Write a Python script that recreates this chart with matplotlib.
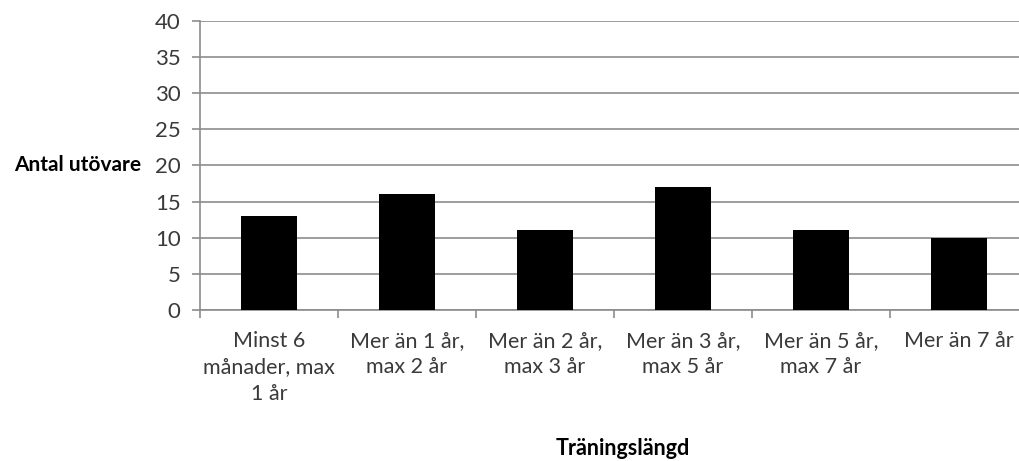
import matplotlib
matplotlib.use("Agg")
import matplotlib.pyplot as plt
import numpy as np

categories = [
    "Minst 6\nmånader, max\n1 år",
    "Mer än 1 år,\nmax 2 år",
    "Mer än 2 år,\nmax 3 år",
    "Mer än 3 år,\nmax 5 år",
    "Mer än 5 år,\nmax 7 år",
    "Mer än 7 år",
]
counts = [13, 16, 11, 17, 11, 10]
y_ticks = [0, 5, 10, 15, 20, 25, 30, 35, 40]

plt.rcParams["font.family"] = ["Lato", "DejaVu Sans"]

W, H = 1019, 461
fig = plt.figure(figsize=(W / 100, H / 100), dpi=100)
left, right, bottom, top = 200, 1028, 310, 20.7
ax = fig.add_axes([left / W, 1 - bottom / H, (right - left) / W, (bottom - top) / H])

x = np.arange(len(categories))
ax.bar(x, counts, width=0.40, color="black", zorder=3)

ax.set_xlim(-0.5, len(categories) - 0.5)
ax.set_ylim(0, 40)
ax.set_yticks(y_ticks)
ax.set_yticklabels([str(v) for v in y_ticks])
ax.yaxis.grid(True, color="#8c8c8c", linewidth=1.2, zorder=0)

grid_col = "#8c8c8c"
for s in ["top", "right"]:
    ax.spines[s].set_visible(False)
ax.spines["left"].set_color(grid_col)
ax.spines["bottom"].set_color(grid_col)
ax.spines["left"].set_linewidth(1.2)
ax.spines["bottom"].set_linewidth(1.2)

ax.set_xticks(x)
ax.set_xticklabels(categories, fontsize=15.5, color="#3a3a3a", linespacing=1.4, va="top")
ax.tick_params(axis="x", length=0, pad=15)
ax.set_xticks(np.arange(len(categories)) - 0.5, minor=True)
ax.tick_params(axis="x", which="minor", length=6, color=grid_col, width=1.2)
ax.tick_params(axis="y", length=6, color=grid_col, width=1.2, labelsize=16,
               labelcolor="#3a3a3a", pad=8)

fig.text(141 / W, 1 - 165 / H, "Antal utövare", ha="right", va="center",
         fontsize=15, fontweight="bold", color="black")
fig.text(623 / W, 1 - 448 / H, "Träningslängd", ha="center", va="center",
         fontsize=15.5, fontweight="bold", color="black")

fig.savefig("out.png", dpi=100)
